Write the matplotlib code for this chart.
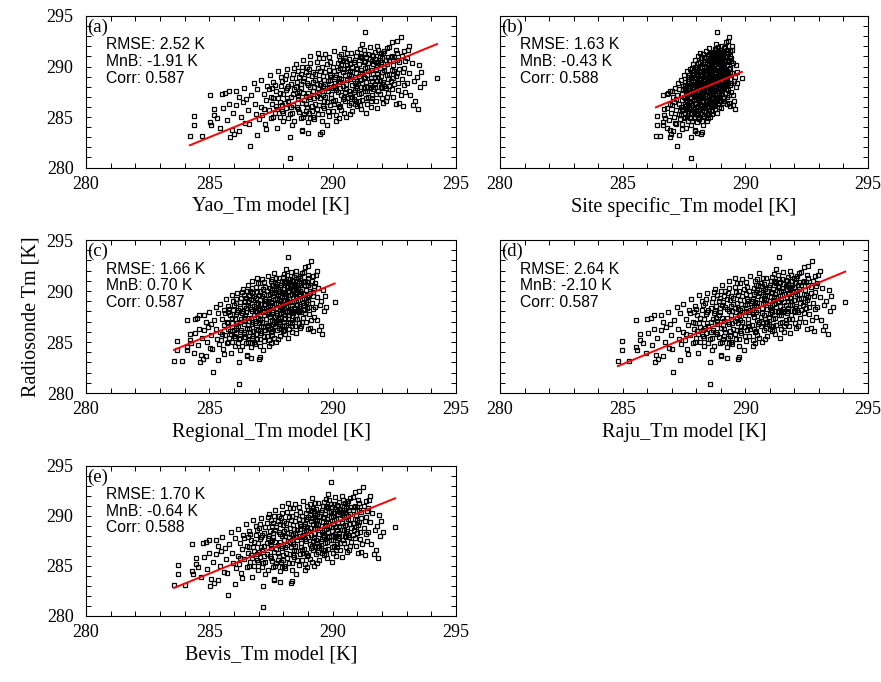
import numpy as np
import matplotlib
matplotlib.use("Agg")
import matplotlib.pyplot as plt
from matplotlib.ticker import MultipleLocator

# ---- data: (Yao_Tm model value, radiosonde Tm) ----
yao_points = [
    (284.21,283.11),(284.38,285.1),(284.38,284.2),(284.69,283.1),(285.03,287.19),(285.03,284.54),(285.05,284.2),(285.2,285.8),
    (285.2,285.2),(285.3,284.9),(285.45,283.9),(285.5,287.3),(285.65,287.4),(285.8,287.6),(285.55,285.9),(285.7,284.7),
    (285.9,283.7),(286.0,283.3),(285.85,283.0),(285.95,285.4),(286.1,286.2),(286.1,287.6),(286.2,287.0),(286.3,285.0),
    (286.35,286.5),(286.4,287.9),(286.5,286.8),(286.55,285.7),(286.6,284.3),(286.65,282.1),(286.7,287.2),(286.8,288.4),
    (286.85,286.3),(286.9,285.3),(286.95,283.2),(286.95,287.8),(287.0,284.8),(286.45,284.4),(286.2,283.6),(285.8,286.3),
    (287.1,286.0),(287.1,288.7),(287.15,285.2),(287.2,287.3),(287.25,284.3),(287.3,286.7),(287.35,288.1),(287.4,285.7),
    (287.45,289.2),(287.5,287.0),(287.5,284.9),(287.55,286.3),(287.6,288.5),(287.65,285.4),(287.7,287.6),(287.75,283.9),
    (287.8,286.9),(287.8,289.6),(287.85,285.0),(287.9,288.1),(287.95,286.2),(288.0,287.3),(288.0,284.6),(287.2,285.8),
    (287.6,286.9),(287.9,289.0),(287.4,287.8),(287.7,286.1),(287.3,283.8),(287.95,285.6),
    (287.55,287.9),(287.65,288.2),(287.75,285.8),(287.85,287.4),(287.95,288.6),(288.05,286.4),(288.1,289.2),(288.2,288.1),
    (288.3,286.0),(288.4,287.3),(288.45,289.9),(288.0,285.4),(287.6,285.0),(288.35,284.2),(288.15,287.9),(287.85,286.5),
    (288.05,288.8),(288.1,285.9),(288.1,287.7),(288.15,289.8),(288.2,286.6),(288.2,284.9),(288.25,280.9),(288.26,283.0),
    (288.3,288.3),(288.3,287.0),(288.35,285.4),(288.4,289.3),(288.4,286.2),(288.45,284.6),(288.5,288.0),(288.5,290.2),
    (288.55,287.4),(288.6,285.8),(288.6,286.8),(288.65,289.0),(288.7,284.9),(288.7,287.9),(288.75,283.6),(288.75,286.4),
    (288.8,288.6),(288.8,290.6),(288.85,285.3),(288.9,287.1),(288.9,289.5),(288.95,286.0),(289.0,288.2),(289.0,284.5),
    (288.15,286.9),(288.35,288.9),(288.55,286.0),(288.65,287.6),(288.85,286.7),(288.95,290.0),(288.45,287.8),(288.25,285.3),
    (288.8,285.0),(289.0,287.4),
    (288.55,288.5),(288.6,289.6),(288.65,285.5),(288.7,288.3),(288.75,290.0),(288.8,287.4),(288.85,288.9),(288.9,286.3),
    (288.95,288.4),(289.0,289.2),(289.05,287.0),(289.1,290.3),(289.15,286.1),(289.2,289.5),(289.25,286.9),(289.3,288.7),
    (289.35,285.8),(289.4,289.9),(289.45,287.4),(289.5,288.2),(288.6,287.1),(288.9,285.6),(289.2,285.0),(289.45,290.8),
    (288.7,289.3),(289.1,284.9),(289.35,288.3),
    (289.05,289.8),(289.1,286.8),(289.1,291.0),(289.15,285.6),(289.2,288.5),(289.2,287.6),(289.25,284.8),(289.3,289.3),
    (289.3,286.3),(289.35,290.4),(289.39,291.3),(289.4,287.9),(289.4,285.3),(289.45,288.8),(289.5,286.9),(289.5,283.3),
    (289.55,290.0),(289.55,284.6),(289.6,288.1),(289.6,287.2),(289.65,285.9),(289.7,289.5),(289.7,291.2),(289.75,286.5),
    (289.8,288.6),(289.8,287.6),(289.85,285.1),(289.9,290.4),(289.9,286.2),(289.95,289.0),(290.0,287.9),(290.0,285.6),
    (289.15,289.1),(289.25,288.0),(289.45,286.2),(289.65,288.7),(289.85,289.7),(289.35,287.1),(289.75,287.9),(289.05,285.4),
    (289.6,290.8),(289.95,286.9),(289.1,288.0),(289.5,289.6),(288.75,283.7),(289.0,283.4),(289.56,283.5),
    (289.55,287.6),(289.6,289.1),(289.65,286.6),(289.7,288.3),(289.75,290.2),(289.8,285.6),(289.85,288.0),(289.9,289.2),
    (289.95,287.3),(290.0,290.0),(290.05,286.3),(290.1,289.0),(290.15,287.7),(290.2,288.6),(290.25,286.0),(290.3,290.6),
    (290.35,288.8),(290.4,286.8),(290.45,289.8),(290.5,287.5),(289.6,286.1),(289.7,287.0),(289.9,288.7),(290.05,288.1),
    (290.2,289.7),(290.35,291.2),(289.85,290.9),(290.45,285.4),(290.15,284.6),(289.75,284.2),(290.0,286.6),(290.3,287.9),
    (289.55,285.3),
    (290.05,289.6),(290.05,291.5),(290.1,286.7),(290.1,288.4),(290.15,285.2),(290.2,290.3),(290.2,287.5),(290.25,288.9),
    (290.25,291.0),(290.3,286.1),(290.3,289.9),(290.35,287.2),(290.35,285.7),(290.4,288.1),(290.4,290.6),(290.45,291.8),
    (290.5,286.6),(290.5,289.2),(290.55,287.8),(290.55,285.0),(290.6,288.7),(290.6,290.1),(290.65,286.2),(290.7,289.6),
    (290.7,287.3),(290.75,291.3),(290.8,288.2),(290.8,285.6),(290.85,290.4),(290.85,286.8),(290.9,289.0),(290.9,287.7),
    (290.95,291.0),(291.0,288.6),(291.0,286.1),(290.15,289.2),(290.3,288.5),(290.45,287.0),(290.65,289.3),(290.75,287.0),
    (290.95,289.8),(290.2,286.3),(290.4,289.5),(290.6,291.3),(290.8,290.0),(290.1,287.9),(290.5,290.8),(290.9,288.4),
    (290.35,290.1),(290.7,285.3),(290.25,284.9),
    (290.55,288.3),(290.6,286.9),(290.65,290.7),(290.7,288.8),(290.75,286.4),(290.8,289.5),(290.85,287.5),(290.9,290.6),
    (290.95,288.1),(291.0,289.9),(291.05,286.6),(291.1,290.9),(291.15,287.4),(291.2,288.4),(291.25,291.6),(291.3,288.9),
    (291.35,286.9),(291.4,289.2),(291.45,290.3),(291.5,288.2),(290.6,289.9),(290.7,290.2),(290.8,287.0),(290.9,286.3),
    (291.0,287.9),(291.1,286.2),(291.2,289.4),(291.3,290.5),(291.4,288.0),(291.45,291.2),(290.55,290.5),(290.75,289.1),
    (290.95,286.6),(291.05,289.1),(291.25,287.9),(291.35,290.9),(290.65,287.6),(291.15,291.0),
    (291.05,290.2),(291.05,287.3),(291.1,289.4),(291.1,291.7),(291.15,285.8),(291.15,288.0),(291.2,290.8),(291.2,286.7),
    (291.25,289.0),(291.3,287.6),(291.32,293.38),(291.3,291.2),(291.35,288.5),(291.35,285.4),(291.4,290.0),(291.4,286.3),
    (291.45,289.6),(291.5,287.9),(291.5,291.9),(291.55,288.9),(291.55,286.0),(291.6,290.5),(291.6,287.2),(291.65,289.3),
    (291.7,291.4),(291.7,288.3),(291.75,286.6),(291.8,290.1),(291.8,285.9),(291.85,289.0),(291.85,287.6),(291.9,291.0),
    (291.9,288.6),(291.95,290.4),(292.0,286.9),(292.0,289.5),(291.1,288.7),(291.25,290.4),(291.45,287.0),(291.65,291.0),
    (291.75,289.8),(291.95,288.0),(291.3,289.9),(291.5,290.7),(291.6,288.6),(291.2,292.2),(291.8,292.0),(291.4,287.6),
    (291.7,290.7),(291.9,289.9),(291.0,291.4),(291.55,286.6),(291.15,289.7),(291.85,291.6),
    (291.55,289.7),(291.6,291.1),(291.65,287.8),(291.7,289.0),(291.75,290.4),(291.8,288.6),(291.85,290.3),(291.9,287.3),
    (291.95,289.1),(292.0,290.8),(292.05,288.5),(292.1,291.5),(292.15,287.9),(292.2,290.2),(292.25,288.8),(292.3,289.3),
    (292.35,290.9),(292.4,287.8),(292.45,290.1),(292.5,289.6),(291.6,286.9),(291.7,288.0),(291.8,289.3),(291.9,290.6),
    (292.0,288.3),(292.1,289.7),(292.2,287.0),(292.3,288.1),(292.4,291.0),(291.65,290.2),(291.75,287.3),(291.95,291.3),
    (292.05,286.4),(292.25,290.9),(291.55,288.0),
    (292.05,291.3),(292.1,288.1),(292.1,290.0),(292.15,286.6),(292.2,289.2),(292.2,291.8),(292.25,287.4),(292.3,290.6),
    (292.35,288.6),(292.4,289.7),(292.4,292.4),(292.45,287.0),(292.5,290.9),(292.5,288.3),(292.55,286.3),(292.6,292.5),
    (292.6,289.4),(292.65,287.7),(292.7,290.4),(292.78,292.95),(292.8,288.8),(292.85,286.1),(292.9,289.9),(292.95,287.5),
    (293.0,288.4),(293.1,292.0),(292.9,291.5),(292.3,291.9),(292.7,286.4),(293.0,290.8),(292.15,290.6),(292.45,288.9),
    (292.0,287.9),(292.6,291.3),
    (292.55,289.1),(292.6,290.6),(292.65,288.4),(292.7,289.8),(292.75,287.2),(292.8,291.0),(292.85,289.5),(292.9,288.2),
    (292.95,290.5),(292.55,291.6),
    (293.1,289.4),(293.15,287.2),(293.2,290.3),(293.3,288.6),(293.35,286.6),(293.4,289.0),(293.5,290.1),(293.6,289.5),
    (293.45,285.8),(293.25,286.2),(293.7,288.4),(294.23,288.9),(293.05,291.6),(293.55,288.0),
]
yao_tm = np.array([p[0] for p in yao_points])
radiosonde_tm = np.array([p[1] for p in yao_points])

# other models are linear in surface temperature, hence linear in Yao_Tm: x = c0 + c1 * yao_tm
models = ["Yao", "Site specific", "Regional", "Raju", "Bevis"]
model_c0 = [0.0, 186.88, 98.83, 21.91, 29.49]
model_c1 = [1.0, 0.350, 0.650, 0.925, 0.894]
panel_letters = ["(a)", "(b)", "(c)", "(d)", "(e)"]
rmse = ["2.52", "1.63", "1.66", "2.64", "1.70"]
mnb = ["-1.91", "-0.43", "0.70", "-2.10", "-0.64"]
corr = ["0.587", "0.588", "0.587", "0.587", "0.588"]
ticks = [280, 285, 290, 295]

W, H = 881, 682
boxes = [(86, 16, 456, 167.5), (500, 16, 868, 167.5),
         (86, 240, 456, 393), (500, 240, 868, 393),
         (86, 466, 456, 616)]

serif = "Liberation Serif"
sans = "Liberation Sans"

fig = plt.figure(figsize=(W/100, H/100), dpi=100)
for i, m in enumerate(models):
    l, t, r, b = boxes[i]
    ax = fig.add_axes([l/W, 1-b/H, (r-l)/W, (b-t)/H])
    x = model_c0[i] + model_c1[i]*yao_tm
    ax.plot(x, radiosonde_tm, linestyle="none", marker="s", markersize=3.2,
            markerfacecolor="none", markeredgecolor="black", markeredgewidth=0.9)
    bias = np.mean(radiosonde_tm - x)
    xl = np.array([x.min(), x.max()])
    ax.plot(xl, xl + bias, color="#ff0000", linewidth=1.4)
    ax.set_xlim(280, 295)
    ax.set_ylim(280, 295)
    ax.set_xticks(ticks)
    ax.set_yticks(ticks)
    ax.xaxis.set_minor_locator(MultipleLocator(1))
    ax.yaxis.set_minor_locator(MultipleLocator(1))
    ax.tick_params(which="both", direction="in", top=True, right=True,
                   length=3.6, width=0.7, labelsize=13)
    ax.tick_params(axis="x", pad=6)
    ax.tick_params(axis="y", pad=9)
    for lab in ax.get_xticklabels() + ax.get_yticklabels():
        lab.set_fontfamily(serif)
    if i in (1, 3):
        ax.set_yticklabels([])
    for s in ax.spines.values():
        s.set_linewidth(0.8)
    ax.set_xlabel(f"{m}_Tm model [K]", fontfamily=serif, fontsize=14.5, labelpad=3)
    ax.text(0.003, 0.985, panel_letters[i], transform=ax.transAxes, ha="left", va="top",
            fontfamily=serif, fontsize=13.5)
    ax.text(0.054, 0.70, f"RMSE: {rmse[i]} K\nMnB: {mnb[i]} K\nCorr: {corr[i]}",
            transform=ax.transAxes, ha="left", va="center", fontfamily=sans,
            fontsize=11.3, linespacing=1.15)
    if i == 2:
        ax.set_ylabel("Radiosonde Tm [K]", fontfamily=serif, fontsize=14.5, labelpad=4)

fig.savefig("out.png", dpi=100)
